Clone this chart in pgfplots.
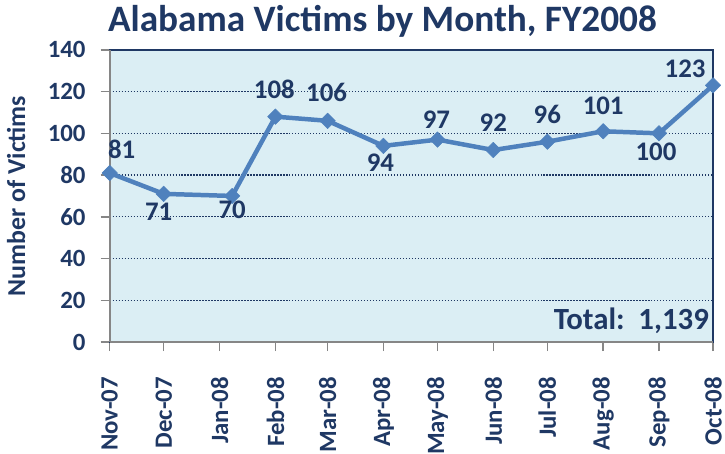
\documentclass[border=0pt]{standalone}
\usepackage{fontspec}
\setmainfont{Carlito}
\usepackage{pgfplots}
\usepackage{pgfplotstable}
\pgfplotsset{compat=1.18}
\definecolor{txt}{RGB}{31,56,100}
\definecolor{linec}{RGB}{79,129,189}
\definecolor{bgc}{RGB}{219,238,244}
\definecolor{axgray}{RGB}{134,134,134}
\pgfplotstableread{
x y dx dy
0 81 12 24
30 71 -5 -18
68 70 0 -14
92 108 -1 27
121 106 -1 28
152 94 -3 -17
182 97 -1 20
213 92 0 27
243 96 0 27
274 101 0 26
305 100 -3 -18
335 123 -28 17
}\datatable
\begin{document}
\begin{tikzpicture}
\begin{axis}[
  name=ax,
  scale only axis,
  width=605bp, height=293bp,
  xmin=0, xmax=335, ymin=0, ymax=140,
  clip=false,
  axis background/.style={fill=bgc},
  axis line style={draw=txt, line width=1.5bp},
  xtick={0,30,61,92,121,152,182,213,243,274,305,335},
  xticklabels={Nov-07,Dec-07,Jan-08,Feb-08,Mar-08,Apr-08,May-08,Jun-08,Jul-08,Aug-08,Sep-08,Oct-08},
  ytick={0,20,...,140},
  xtick pos=lower, ytick pos=left,
  tick align=outside,
  major tick length=9bp,
  tick style={draw=axgray, line width=1.5bp},
  ymajorgrids,
  major grid style={draw=txt, line width=1.2bp, dash pattern=on 1.3bp off 1.7bp},
  /pgf/number format/assume math mode=true,
  ticklabel style={font=\fontsize{25}{28}\selectfont\bfseries, text=txt},
  xticklabel style={rotate=90, anchor=east, inner xsep=26bp},
  yticklabel style={inner xsep=15bp},
  title={Alabama Victims by Month, FY2008},
  title style={font=\fontsize{37.5}{42}\selectfont\bfseries, text=txt, at={(0.5,1)}, anchor=base, inner sep=0pt, yshift=12bp, xshift=-29bp},
  ylabel={Number of Victims},
  ylabel style={font=\fontsize{26}{30}\selectfont\bfseries, text=txt, at={(axis description cs:-0.155,0.5)}, anchor=center},
]
\addplot[color=linec, line width=4.5bp, line join=round,
  mark=square*, mark size=5.5bp, mark options={rotate=45, fill=linec, draw=linec, line width=0.5bp},
  nodes near coords,
  visualization depends on={\thisrow{dx} \as \dx},
  visualization depends on={\thisrow{dy} \as \dy},
  every node near coord/.style={anchor=center, font=\fontsize{27}{30}\selectfont\bfseries, text=txt, xshift={\dx*1bp}, yshift={\dy*1bp}},
] table[x=x, y=y] {\datatable};
\draw[axgray, line width=2bp] (rel axis cs:0,0) -- (rel axis cs:0,1);
\draw[axgray, line width=2bp] (rel axis cs:0,0) -- (rel axis cs:1,0);
\node[anchor=base east, inner sep=0pt, font=\fontsize{31}{34}\selectfont\bfseries, text=txt, xshift=-4bp, yshift=13bp] at (rel axis cs:1,0) {Total:\ \ 1,139};
\end{axis}
\pgfresetboundingbox
\path ([xshift=-110bp,yshift=-112bp]ax.south west) rectangle ([xshift=12bp,yshift=50bp]ax.north east);
\end{tikzpicture}
\end{document}
